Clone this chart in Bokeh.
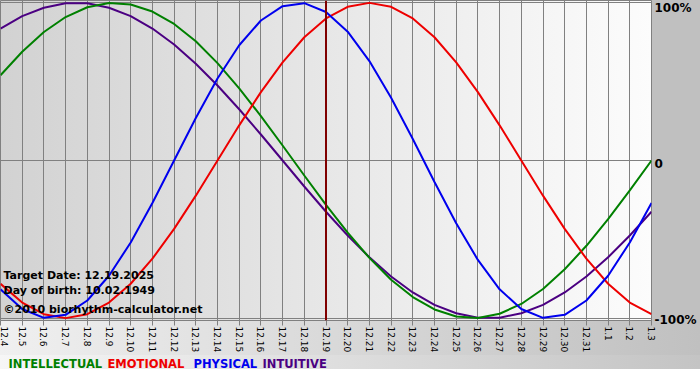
import math
from bokeh.plotting import figure
from bokeh.layouts import column
from bokeh.models import FixedTicker, Range1d, LinearAxis, Span, Label
from bokeh.embed import file_html
from bokeh.resources import INLINE

# ---- data ----
dates = ["12.4", "12.5", "12.6", "12.7", "12.8", "12.9", "12.10", "12.11", "12.12",
         "12.13", "12.14", "12.15", "12.16", "12.17", "12.18", "12.19", "12.20",
         "12.21", "12.22", "12.23", "12.24", "12.25", "12.26", "12.27", "12.28",
         "12.29", "12.30", "12.31", "1.1", "1.2", "1.3"]

intellectual = [54.1, 69.0, 81.5, 91.0, 97.2, 99.9, 99.0, 94.5, 86.6, 75.6, 61.8,
                45.8, 28.2, 9.5, -9.5, -28.2, -45.8, -61.8, -75.6, -86.6, -94.5,
                -99.0, -99.9, -97.2, -91.0, -81.5, -69.0, -54.1, -37.2, -18.9, 0.0]
emotional = [-78.2, -90.1, -97.5, -100.0, -97.5, -90.1, -78.2, -62.3, -43.4, -22.3,
             0.0, 22.3, 43.4, 62.3, 78.2, 90.1, 97.5, 100.0, 97.5, 90.1, 78.2, 62.3,
             43.4, 22.3, 0.0, -22.3, -43.4, -62.3, -78.2, -90.1, -97.5]
physical = [-81.7, -94.2, -99.8, -97.9, -88.8, -73.1, -52.0, -27.0, 0.0, 27.0, 52.0,
            73.1, 88.8, 97.9, 99.8, 94.2, 81.7, 63.1, 39.8, 13.6, -13.6, -39.8,
            -63.1, -81.7, -94.2, -99.8, -97.9, -88.8, -73.1, -52.0, -27.0]
intuitive = [83.7, 91.6, 96.9, 99.7, 99.7, 96.9, 91.6, 83.7, 73.6, 61.4, 47.6, 32.5,
             16.5, 0.0, -16.5, -32.5, -47.6, -61.4, -73.6, -83.7, -91.6, -96.9,
             -99.7, -99.7, -96.9, -91.6, -83.7, -73.6, -61.4, -47.6, -32.5]

series_names = ["INTELLECTUAL", "EMOTIONAL", "PHYSICAL", "INTUITIVE"]
series_colors = ["#008000", "#ee0000", "#0000ee", "#4b0082"]

y_ticks = [100, 0, -100]
y_tick_labels = ["100%", "0", "-100%"]

target_date = "12.19"
info_lines = ["Target Date: 12.19.2025", "Day of birth: 10.02.1949",
              "\u00a92010 biorhythm-calculator.net"]

# ---- main figure ----
idx = list(range(len(dates)))

bg_main = ("linear-gradient(to right, #d2d2d2, #fcfcfc) 0px 0px / 651px 321px no-repeat, "
           "linear-gradient(#c0c0c0, #c0c0c0) 651px 0px / 49px 321px no-repeat, "
           "linear-gradient(to right, #f0f0f0, #c0c0c0) 0px 321px / 700px 34px no-repeat, "
           "#ffffff")
bg_leg = ("linear-gradient(to right, #f6f6f6, #c4c4c4) 0px 0px / 700px 14px no-repeat, "
          "#ffffff")

p = figure(width=700, height=355, output_backend="svg", toolbar_location=None,
           x_range=Range1d(0, len(dates) - 1), y_range=Range1d(-101.5, 101.5),
           y_axis_location=None,
           min_border_left=0, min_border_top=0, min_border_right=49, min_border_bottom=34,
           styles={"background": bg_main})

p.background_fill_alpha = 0
p.border_fill_alpha = 0
p.outline_line_color = "#808080"

# x axis
xa = p.xaxis[0]
xa.ticker = FixedTicker(ticks=idx)
xa.major_label_overrides = {i: d for i, d in zip(idx, dates)}
xa.major_label_orientation = -math.pi / 2
xa.major_label_text_font = "DejaVu Sans"
xa.major_label_text_font_size = "9px"
xa.major_label_text_color = "#000000"
xa.major_label_standoff = 1
xa.axis_line_color = "#808080"
xa.major_tick_line_color = "#808080"
xa.major_tick_out = 5
xa.major_tick_in = 0
xa.minor_tick_line_color = None
xa.minor_tick_out = 0
xa.minor_tick_in = 0
xa.axis_label_standoff = 0

# grids
p.xgrid.ticker = FixedTicker(ticks=idx)
p.xgrid.grid_line_color = "#808080"
p.ygrid.ticker = FixedTicker(ticks=y_ticks)
p.ygrid.grid_line_color = "#808080"

# right percentage axis
p.extra_y_ranges = {"lab": Range1d(-100.32, 104.47)}
ra = LinearAxis(y_range_name="lab")
ra.ticker = FixedTicker(ticks=y_ticks)
ra.major_label_overrides = {t: l for t, l in zip(y_ticks, y_tick_labels)}
ra.major_label_text_font = "DejaVu Sans"
ra.major_label_text_font_style = "bold"
ra.major_label_text_font_size = "12px"
ra.major_label_text_color = "#000000"
ra.major_label_standoff = 3
ra.axis_line_color = None
ra.major_tick_line_color = None
ra.minor_tick_line_color = None
ra.major_tick_out = 0
ra.major_tick_in = 0
ra.minor_tick_out = 0
ra.minor_tick_in = 0
ra.axis_label_standoff = 0
p.add_layout(ra, "right")

# target day marker
p.add_layout(Span(location=dates.index(target_date), dimension="height",
                  line_color="#800000", line_width=2))

# curves
for vals, col in [(intuitive, series_colors[3]), (intellectual, series_colors[0]),
                  (emotional, series_colors[1]), (physical, series_colors[2])]:
    p.line(idx, vals, line_color=col, line_width=2)

# info text
for txt, yv in zip(info_lines, [-73.0, -82.2, -94.5]):
    p.add_layout(Label(x=0.14, y=yv, text=txt, text_font="DejaVu Sans",
                       text_font_style="bold", text_font_size="11px",
                       text_color="#000000", text_baseline="alphabetic"))

# ---- legend strip (its frame is aligned with the main frame, 651 px wide) ----
leg = figure(width=700, height=25, output_backend="svg", toolbar_location=None,
             x_range=Range1d(0, 651), y_range=Range1d(0, 25),
             x_axis_location=None, y_axis_location=None,
             min_border=0, styles={"background": bg_leg})
leg.background_fill_alpha = 0
leg.border_fill_alpha = 0
leg.outline_line_color = None
leg.xgrid.visible = False
leg.ygrid.visible = False

for name, col, xv in zip(series_names, series_colors, [8, 107, 193, 262]):
    leg.add_layout(Label(x=xv, y=17, text=name, text_font="DejaVu Sans",
                         text_font_style="bold", text_font_size="11.5px",
                         text_color=col, text_baseline="alphabetic"))

layout = column(p, leg, spacing=0)
open("out.html", "w").write(file_html(layout, INLINE))
